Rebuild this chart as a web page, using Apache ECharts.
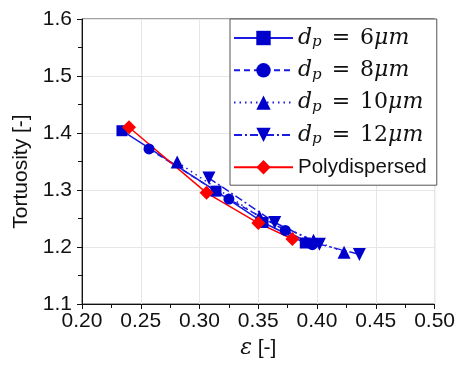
<!DOCTYPE html>
<html>
<head>
<meta charset="utf-8">
<script src="https://cdn.jsdelivr.net/npm/echarts@6/dist/echarts.min.js"></script>
<style>
  html, body { margin: 0; padding: 0; background: #fff; }
  #chart { width: 458px; height: 367px; }
</style>
</head>
<body>
<div id="chart"></div>
<script>
// Porosity (ε) and tortuosity for each particle diameter
const eps6  = [0.234, 0.314, 0.354, 0.390];
const tort6 = [1.404, 1.298, 1.243, 1.207];
const eps8  = [0.257, 0.325, 0.373, 0.396];
const tort8 = [1.372, 1.284, 1.229, 1.204];
const eps10  = [0.281, 0.351, 0.397, 0.423];
const tort10 = [1.349, 1.253, 1.212, 1.191];
const eps12  = [0.308, 0.364, 0.402, 0.436];
const tort12 = [1.321, 1.243, 1.205, 1.187];
const epsPoly  = [0.240, 0.306, 0.350, 0.379];
const tortPoly = [1.410, 1.295, 1.242, 1.214];

const seriesNames = ['dp6', 'dp8', 'dp10', 'dp12', 'Polydispersed'];
const diameters = { dp6: '6', dp8: '8', dp10: '10', dp12: '12' };

const BLUE = '#0000cc';
const LINE_BLUE = '#1a1ae0';
const RED = '#ff0000';
const SANS = '"Liberation Sans", Arial, sans-serif';
const SERIF = '"DejaVu Serif", serif';

function pairs(xs, ys) { return xs.map((x, i) => [x, ys[i]]); }

function makeSeries(name, xs, ys, color, lineColor, lineType, symbol, size, rotate) {
  return {
    name: name,
    type: 'line',
    data: pairs(xs, ys),
    symbol: symbol,
    symbolSize: size,
    symbolRotate: rotate || 0,
    showSymbol: true,
    lineStyle: { color: lineColor, width: 1.5, type: lineType },
    itemStyle: { color: color },
    emphasis: { disabled: true },
    animation: false
  };
}

const chart = echarts.init(document.getElementById('chart'), null, { renderer: 'canvas' });

chart.setOption({
  backgroundColor: '#ffffff',
  animation: false,
  grid: {
    left: 82, right: 22, top: 19, bottom: 63,
    show: true, borderColor: '#444', borderWidth: 1, backgroundColor: 'transparent'
  },
  xAxis: {
    type: 'value',
    min: 0.2, max: 0.5, interval: 0.05,
    name: '{e|ε} [-]',
    nameLocation: 'middle',
    nameGap: 25,
    nameTextStyle: {
      fontFamily: SANS, fontSize: 21, color: '#111',
      rich: { e: { fontFamily: SERIF, fontStyle: 'italic', fontSize: 22, color: '#111' } }
    },
    axisLine: { show: true, onZero: false, lineStyle: { color: '#111', width: 1 } },
    axisTick: { show: true, inside: false, length: 5, lineStyle: { color: '#111' } },
    minorTick: { show: true, splitNumber: 2, length: 4, lineStyle: { color: '#111' } },
    splitLine: { show: true, lineStyle: { color: '#e6e6e6', width: 1 } },
    axisLabel: {
      fontFamily: SANS, fontSize: 21, color: '#111', margin: 7,
      formatter: v => v.toFixed(2)
    }
  },
  yAxis: {
    type: 'value',
    min: 1.1, max: 1.6, interval: 0.1,
    name: 'Tortuosity [-]',
    nameLocation: 'middle',
    nameGap: 48,
    nameTextStyle: { fontFamily: SANS, fontSize: 21, color: '#111', padding: [0, 20, 0, 0] },
    axisLine: { show: true, onZero: false, lineStyle: { color: '#111', width: 1 } },
    axisTick: { show: true, inside: false, length: 5, lineStyle: { color: '#111' } },
    minorTick: { show: true, splitNumber: 2, length: 4, lineStyle: { color: '#111' } },
    splitLine: { show: true, lineStyle: { color: '#e6e6e6', width: 1 } },
    axisLabel: {
      fontFamily: SANS, fontSize: 21, color: '#111', margin: 10,
      formatter: v => v.toFixed(1)
    }
  },
  legend: {
    data: seriesNames,
    orient: 'vertical',
    left: 230, top: 19,
    padding: [7, 10, 6, 3],
    itemWidth: 59, itemHeight: 18, itemGap: 8.3,
    backgroundColor: '#ffffff',
    borderColor: '#555',
    borderWidth: 1,
    borderRadius: 0,
    selectedMode: false,
    formatter: function (name) {
      if (diameters[name]) {
        return '{d|d}{p|p}{eq|=}{n|' + diameters[name] + '}{mu|μm}';
      }
      return '{s|' + name + '}';
    },
    textStyle: {
      color: '#111',
      lineHeight: 24,
      rich: {
        d:  { fontFamily: SERIF, fontStyle: 'italic', fontSize: 22, lineHeight: 24, color: '#111' },
        p:  { fontFamily: SERIF, fontStyle: 'italic', fontSize: 15, lineHeight: 14, verticalAlign: 'bottom', color: '#111' },
        eq: { fontFamily: SERIF, fontSize: 22, lineHeight: 24, padding: [0, 10, 0, 10], color: '#111' },
        n:  { fontFamily: SERIF, fontSize: 22, lineHeight: 24, color: '#111' },
        mu: { fontFamily: SERIF, fontStyle: 'italic', fontSize: 22, lineHeight: 24, color: '#111' },
        s:  { fontFamily: SANS, fontSize: 20.5, lineHeight: 24, color: '#111' }
      }
    }
  },
  series: [
    makeSeries('dp6', eps6, tort6, BLUE, LINE_BLUE, 'solid', 'rect', 11),
    makeSeries('dp8', eps8, tort8, BLUE, LINE_BLUE, [6, 4], 'circle', 11),
    makeSeries('dp10', eps10, tort10, BLUE, LINE_BLUE, [1.5, 4], 'triangle', 13),
    makeSeries('dp12', eps12, tort12, BLUE, LINE_BLUE, [8, 3, 2, 3], 'triangle', 13, 180),
    makeSeries('Polydispersed', epsPoly, tortPoly, RED, RED, 'solid', 'diamond', 14)
  ]
});
</script>
</body>
</html>
